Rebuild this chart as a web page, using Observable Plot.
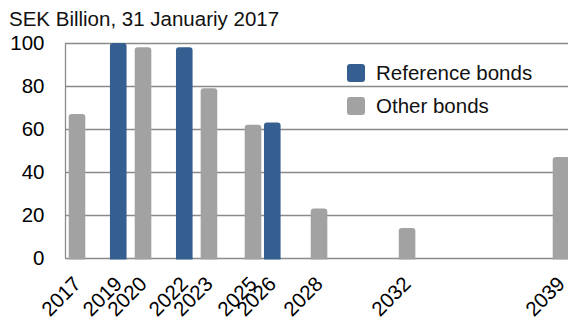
<!DOCTYPE html>
<html>
<head>
<meta charset="utf-8">
<script src="https://cdn.jsdelivr.net/npm/d3@7"></script>
<script src="https://cdn.jsdelivr.net/npm/@observablehq/plot@0.6"></script>
<style>
  html, body { margin: 0; padding: 0; background: #fff; overflow: hidden; }
  body { font-family: "Liberation Sans", Arial, Helvetica, sans-serif; }
  #chart { position: relative; width: 568px; height: 321px; overflow: hidden; }
  .title { font-size: 20.5px; line-height: 30px; padding: 4px 0 0 9px; color: #111; white-space: nowrap; }
  #chart svg { overflow: visible; }
  .legend { position: absolute; left: 347px; top: 64px; font-size: 20.5px; color: #111; }
  .legend-item { display: flex; align-items: center; height: 18px; margin-bottom: 14.5px; }
  .swatch { width: 18px; height: 18px; border-radius: 3px; margin-right: 11px; flex: none; }
  .legend-label { line-height: 18px; white-space: nowrap; }
</style>
</head>
<body>
<div id="chart"></div>
<script>
// Outstanding government bonds by maturity, SEK billion
const titleText = "SEK Billion, 31 Januariy 2017";
const maturities = ["2017-07-01", "2019-05-17", "2020-07-01", "2022-05-17", "2023-07-01",
                    "2025-07-01", "2026-05-17", "2028-07-01", "2032-07-01", "2039-07-01"];
const amounts = [67, 100, 98, 98, 79, 62, 63, 23, 14, 47];
const bondTypes = ["Other bonds", "Reference bonds", "Other bonds", "Reference bonds", "Other bonds",
                   "Other bonds", "Reference bonds", "Other bonds", "Other bonds", "Other bonds"];
const seriesNames = ["Reference bonds", "Other bonds"];
const seriesColors = ["#365f91", "#a2a2a2"];
const yTicks = [0, 20, 40, 60, 80, 100];
const xDomain = ["2016-12-14", "2039-10-25"];

const dates = maturities.map(d => new Date(d + "T00:00:00Z"));
const bonds = dates.map((date, i) => ({date, amount: amounts[i], type: bondTypes[i]}));
const xStart = new Date(xDomain[0] + "T00:00:00Z");

// rounded top corners where the installed Plot supports per-side radii
const [maj, min, patch] = (Plot.version || "0.6.0").split(".").map(Number);
const perSide = maj > 0 || min > 6 || (min === 6 && patch >= 14);
const corner = perSide ? {ry2: 3} : {rx: 2.5};

const chart = d3.select("#chart");
chart.append("div").attr("class", "title").text(titleText);

const plot = Plot.plot({
  width: 568,
  height: 287,
  marginTop: 9,
  marginLeft: 65,
  marginRight: 0,
  marginBottom: 63,
  style: {
    fontFamily: '"Liberation Sans", Arial, Helvetica, sans-serif',
    fontSize: "20.5px",
    color: "#000",
    background: "transparent",
    overflow: "visible"
  },
  x: {
    type: "utc",
    domain: xDomain.map(d => new Date(d + "T00:00:00Z")),
    ticks: dates,
    tickFormat: d3.utcFormat("%Y"),
    tickRotate: -45,
    tickSize: 0,
    tickPadding: 22,
    label: null
  },
  y: {
    domain: [0, 100],
    ticks: yTicks,
    tickSize: 0,
    tickPadding: 21,
    label: null
  },
  color: {domain: seriesNames, range: seriesColors},
  marks: [
    Plot.ruleY(yTicks, {stroke: "#8a8a8a", strokeWidth: 1.3}),
    Plot.ruleX([xStart], {y1: 0, y2: 100, stroke: "#8a8a8a", strokeWidth: 1.3}),
    Plot.rectY(bonds, {
      x1: "date",
      x2: "date",
      y1: 0,
      y2: "amount",
      fill: "type",
      insetLeft: -8.3,
      insetRight: -8.3,
      insetBottom: -1.5,
      ...corner
    })
  ]
});
chart.node().appendChild(plot);

// legend inside the plot area
const legend = chart.append("div").attr("class", "legend");
const items = legend.selectAll(".legend-item").data(seriesNames).join("div").attr("class", "legend-item");
items.append("div").attr("class", "swatch").style("background", (d, i) => seriesColors[i]);
items.append("div").attr("class", "legend-label").text(d => d);
</script>
</body>
</html>
